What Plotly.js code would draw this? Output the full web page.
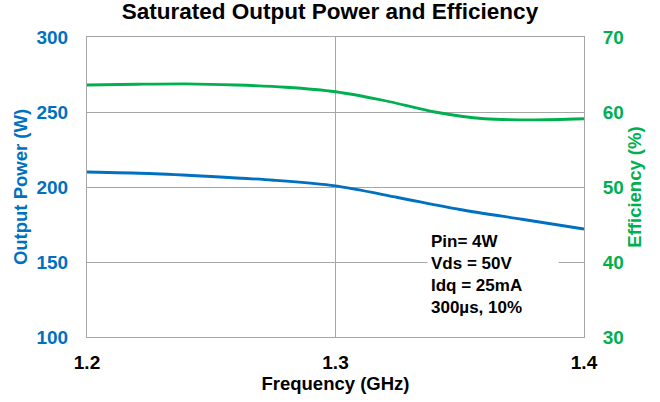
<!DOCTYPE html>
<html><head><meta charset="utf-8">
<script src="https://cdn.plot.ly/plotly-3.0.1.min.js"></script>
<style>body{margin:0;padding:0;background:#fff}#chart{width:660px;height:402px}</style>
</head><body><div id="chart"></div>
<script>
const freqGHz = [1.20, 1.225, 1.25, 1.275, 1.30, 1.325, 1.35, 1.375, 1.40];
const outputPowerW = [210, 209, 207, 204.5, 200.7, 193, 185, 178.5, 172];
const effFreqGHz = [1.20, 1.22, 1.24, 1.26, 1.28, 1.30, 1.32, 1.34, 1.36, 1.38, 1.40];
const efficiencyPct = [63.6, 63.7, 63.75, 63.6, 63.3, 62.7, 61.5, 60.0, 59.1, 58.95, 59.1];
const xTicks = [1.2, 1.3, 1.4];
const noteLines = ["Pin= 4W", "Vds = 50V", "Idq = 25mA", "300µs, 10%"];

const font = "Liberation Sans, Arial, sans-serif";
const blue = "#0070C0", green = "#00B050";

const data = [
  {x: freqGHz, y: outputPowerW, type: "scatter", mode: "lines",
   line: {color: blue, width: 2.8, shape: "spline", smoothing: 0.8}, yaxis: "y", hoverinfo: "skip"},
  {x: effFreqGHz, y: efficiencyPct, type: "scatter", mode: "lines",
   line: {color: green, width: 2.8, shape: "spline", smoothing: 0.8}, yaxis: "y2", hoverinfo: "skip"}
];

const layout = {
  width: 660, height: 402,
  margin: {l: 87, r: 76, t: 37, b: 65},
  paper_bgcolor: "#fff", plot_bgcolor: "#fff",
  showlegend: false,
  font: {family: font},
  title: {text: "<b>Saturated Output Power and Efficiency</b>", font: {size: 22.5, color: "#000", family: font},
          x: 0.5, xanchor: "center", y: 0.992, yanchor: "top"},
  xaxis: {range: [1.2, 1.4], tickvals: xTicks, ticktext: xTicks.map(v => "<b>" + v.toFixed(1) + "</b>"),
          showgrid: true, gridcolor: "#a6a6a6", gridwidth: 1, showline: true, linecolor: "#a6a6a6", mirror: true,
          zeroline: false, ticks: "", ticklabelstandoff: 8,
          tickfont: {size: 19, color: "#000", family: font},
          title: {text: "<b>Frequency (GHz)</b>", font: {size: 18.5, color: "#000", family: font}, standoff: 4}},
  yaxis: {range: [100, 300], dtick: 50, showgrid: true, gridcolor: "#a6a6a6", gridwidth: 1,
          showline: true, linecolor: "#a6a6a6", zeroline: false, ticks: "", ticklabelstandoff: 14,
          tickfont: {size: 19, color: blue, family: font},
          tickprefix: "<b>", ticksuffix: "</b>",
          title: {text: "<b>Output Power (W)</b>", font: {size: 18.5, color: blue, family: font}, standoff: 4}},
  yaxis2: {range: [30, 70], dtick: 10, overlaying: "y", side: "right", showgrid: false,
           showline: true, linecolor: "#a6a6a6", zeroline: false, ticks: "", ticklabelstandoff: 14,
           tickfont: {size: 19, color: green, family: font},
           tickprefix: "<b>", ticksuffix: "</b>",
           title: {text: "<b>Efficiency (%)</b>", font: {size: 18.5, color: green, family: font}, standoff: 4}},
  annotations: [{
    xref: "x", yref: "y", x: 1.3368, y: 172.7, xanchor: "left", yanchor: "top", align: "left",
    width: 124, borderpad: 3,
    text: noteLines.map(s => "<b>" + s + "</b>").join("<br>"),
    font: {size: 17, color: "#000", family: font}, showarrow: false,
    bgcolor: "#fff"
  }]
};

Plotly.newPlot("chart", data, layout, {displayModeBar: false, staticPlot: true});
</script></body></html>
